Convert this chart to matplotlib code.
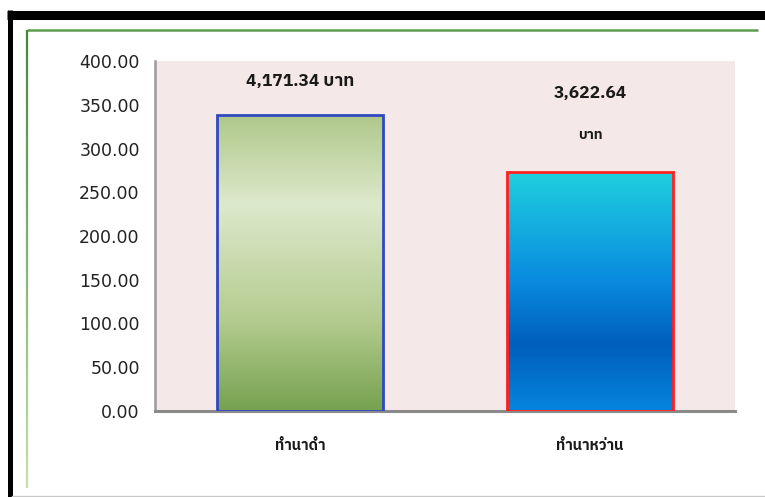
import numpy as np
import matplotlib
matplotlib.use('Agg')
import matplotlib.pyplot as plt
from matplotlib import font_manager
from matplotlib.ft2font import FT2Font
from matplotlib.lines import Line2D
from matplotlib.collections import LineCollection
from matplotlib.colors import LinearSegmentedColormap

# Data
categories = ['ทำนาดำ', 'ทำนาหว่าน']
values = [338.0, 273.5]
value_labels = ['4,171.34 บาท', '3,622.64', 'บาท']
yticks = [0, 50, 100, 150, 200, 250, 300, 350, 400]

# Find a font that has Thai glyphs (fallback to DejaVu)
thai_name = None
preferred = []
others = []
for path in font_manager.findSystemFonts():
    try:
        cmap = FT2Font(path).get_charmap()
    except Exception:
        continue
    if 0x0E17 in cmap and 0x0E33 in cmap:
        low = path.lower()
        if 'thai' in low and 'bold' not in low and 'looped' not in low:
            preferred.append(path)
        else:
            others.append(path)
cands = preferred + others
if cands:
    font_manager.fontManager.addfont(cands[0])
    thai_name = font_manager.FontProperties(fname=cands[0]).get_name()
thai_family = [thai_name, 'DejaVu Sans'] if thai_name else ['DejaVu Sans']

W, H = 765, 497
fig = plt.figure(figsize=(W / 100, H / 100), dpi=100)
fig.patch.set_facecolor('white')

def fx(px):
    return px / W

def fy(py):
    return 1 - py / H

# Outer black frame
fig.add_artist(Line2D([fx(7), fx(765)], [fy(14.5), fy(14.5)], color='black', lw=6.5, solid_capstyle='butt'))
fig.add_artist(Line2D([fx(9.5), fx(9.5)], [fy(10), fy(497)], color='black', lw=3.6, solid_capstyle='butt'))
fig.add_artist(Line2D([fx(12), fx(765)], [fy(495.5), fy(495.5)], color='#c8c8c8', lw=1.0))

# Inner green frame
fig.add_artist(Line2D([fx(27), fx(758)], [fy(30), fy(30)], color='#5e9c4e', lw=1.8, solid_capstyle='butt'))
ys = np.linspace(30, 488, 60)
segs = [[(fx(27), fy(ys[i])), (fx(27), fy(ys[i + 1]))] for i in range(len(ys) - 1)]
gcmap = LinearSegmentedColormap.from_list('g', ['#3f8a3a', '#c5dfa8'])
fig.add_artist(LineCollection(segs, colors=gcmap(np.linspace(0, 1, len(segs))), linewidths=1.6,
                              transform=fig.transFigure))

ax = fig.add_axes([fx(155), fy(411), (735 - 155) / W, (411 - 61) / H])
ax.set_facecolor('#f5e8e8')

x = np.arange(len(categories))
edge_colors = ['#3048c0', '#ff2020']
bars = ax.bar(x, values, width=0.572, facecolor='none', edgecolor=edge_colors, linewidth=2.0, zorder=3)

# top -> bottom gradients
grads = [
    LinearSegmentedColormap.from_list('b1', [(0.0, '#afc88a'), (0.3, '#dde9cc'), (0.7, '#b3cb8e'), (1.0, '#76a24f')]),
    LinearSegmentedColormap.from_list('b2', [(0.0, '#1fd0dd'), (0.45, '#0a8ce0'), (0.72, '#005fbc'), (1.0, '#0585dd')]),
]
for bar, cm in zip(bars, grads):
    x0, w, h = bar.get_x(), bar.get_width(), bar.get_height()
    img = np.linspace(0, 1, 256).reshape(-1, 1)
    im = ax.imshow(img, cmap=cm, extent=[x0, x0 + w, 0, h], aspect='auto', zorder=2,
                   origin='upper', interpolation='bicubic')
    im.set_clip_path(bar)

# Value labels
ax.text(x[0], 377, value_labels[0], ha='center', va='center', fontsize=12.5, fontweight='bold',
        family=thai_family, color='#1a1a1a')
ax.text(x[1], 363, value_labels[1], ha='center', va='center', fontsize=12.5, fontweight='bold',
        family=thai_family, color='#1a1a1a')
ax.text(x[1], 315, value_labels[2], ha='center', va='center', fontsize=10, fontweight='bold',
        family=thai_family, color='#1a1a1a')

ax.set_xlim(-0.5, 1.5)
ax.set_ylim(0, 400)
ax.set_yticks(yticks)
ax.set_yticklabels([f'{v:.2f}' for v in yticks], fontsize=12.5, color='#222222')
ax.set_xticks(x)
ax.set_xticklabels(categories, family=thai_family, fontsize=10.5, fontweight='bold', color='#1a1a1a')
ax.tick_params(axis='y', length=0, pad=11)
ax.tick_params(axis='x', length=0, pad=20)

for s in ['top', 'right']:
    ax.spines[s].set_visible(False)
ax.spines['left'].set_color('#9a9a9a')
ax.spines['left'].set_linewidth(1.8)
ax.spines['bottom'].set_color('#8a8a8a')
ax.spines['bottom'].set_linewidth(2.2)

fig.savefig('out.png', dpi=100, facecolor='white')
